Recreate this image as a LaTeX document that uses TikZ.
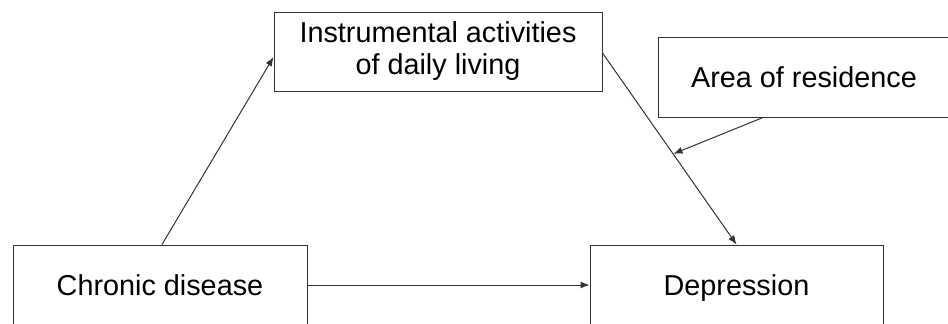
\documentclass[tikz,border=0pt]{standalone}
\usepackage{fontspec}
\setmainfont{Liberation Sans}
\usetikzlibrary{arrows.meta,calc}

\begin{document}
\begin{tikzpicture}[x=1pt,y=-1pt,
	box/.style={draw=black!80,line width=1pt,fill=white,inner sep=0pt,align=center,
		font=\fontsize{28.8}{32}\selectfont},
	oneline/.style={box,text height=22pt,text depth=2pt},
	link/.style={draw=black!80,line width=1pt,-{Latex[length=9pt,width=7pt]}}]
	\useasboundingbox (0,0) rectangle (948,324);
	
	%BOXES
	\node[box,minimum width=328pt,minimum height=79pt] (iadl) at (438,51.5) {Instrumental activities\\of daily living};
	\node[oneline,minimum width=292pt,minimum height=80pt] (area) at (804,77) {Area of residence};
	\node[oneline,minimum width=294pt,minimum height=80pt] (chronic) at (160,285) {Chronic disease};
	\node[oneline,minimum width=293pt,minimum height=80pt] (dep) at (736.5,285) {Depression};
	
	%POINTS
	\coordinate (mod) at ($(iadl.east)!0.53!(dep.north)$);
	\coordinate (areafoot) at ($(area.south west)!0.36!(area.south east)$);
	
	%ARROWS
	\draw[link] ([xshift=2pt]chronic.north) -- ([yshift=-5.5pt]iadl.west);
	\draw[link] ([yshift=-1.5pt]iadl.east) -- (dep.north);
	\draw[link] (areafoot) -- (mod);
	\draw[link] (chronic.east) -- (dep.west);
\end{tikzpicture}
\end{document}
